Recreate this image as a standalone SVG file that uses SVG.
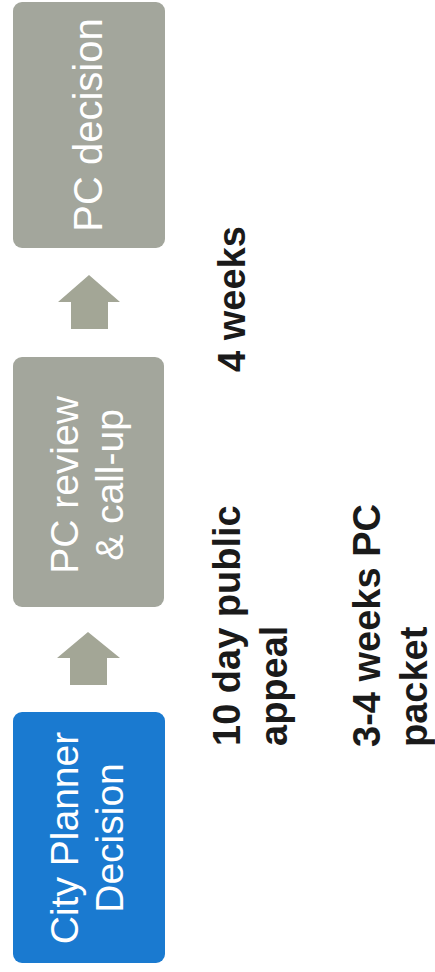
<svg xmlns="http://www.w3.org/2000/svg" width="435" height="972" viewBox="0 0 435 972">
  <style>
    .box-blue { fill: #1a7ad0; }
    .box-grey { fill: #a3a69c; }
    .arrow { fill: #a3a696; }
    .box-label { font-family: "Liberation Sans", Arial, sans-serif; font-size: 39px; fill: #ffffff; text-anchor: middle; }
    .note { font-family: "Liberation Sans", Arial, sans-serif; font-size: 38px; font-weight: bold; fill: #1a1a1a; }
  </style>
  <rect width="435" height="972" fill="#ffffff"/>

  <!-- Process steps (read bottom to top) -->
  <g id="node-city-planner">
    <rect class="box-blue" x="13" y="712" width="152" height="251" rx="9"/>
    <g transform="translate(0,838) rotate(-90)">
      <text class="box-label" x="0" y="78">City Planner</text>
      <text class="box-label" x="0" y="123">Decision</text>
    </g>
  </g>

  <g id="node-pc-review">
    <rect class="box-grey" x="13" y="357" width="151" height="250" rx="9"/>
    <g transform="translate(0,485) rotate(-90)">
      <text class="box-label" x="0" y="78">PC review</text>
      <text class="box-label" x="0" y="123">&amp; call-up</text>
    </g>
  </g>

  <g id="node-pc-decision">
    <rect class="box-grey" x="13" y="2" width="152" height="246" rx="9"/>
    <g transform="translate(0,125) rotate(-90)">
      <text class="box-label" x="0" y="102" style="font-size:40px">PC decision</text>
    </g>
  </g>

  <!-- Block arrows between steps -->
  <g id="connectors">
    <polygon class="arrow" points="88,632 120,658 107,658 107,685 70,685 70,658 57,658"/>
    <polygon class="arrow" points="89,275 120,302 108,302 108,329 71,329 71,302 58,302"/>
  </g>

  <!-- Timing notes -->
  <g id="note-appeal" transform="translate(0,746) rotate(-90)">
    <text class="note" x="0" y="240">10 day public</text>
    <text class="note" x="0" y="287">appeal</text>
  </g>
  <g id="note-packet" transform="translate(0,747) rotate(-90)">
    <text class="note" x="0" y="380">3-4 weeks PC</text>
    <text class="note" x="0" y="427">packet</text>
  </g>
  <g id="note-weeks" transform="translate(0,372) rotate(-90)">
    <text class="note" x="0" y="245">4 weeks</text>
  </g>
</svg>
